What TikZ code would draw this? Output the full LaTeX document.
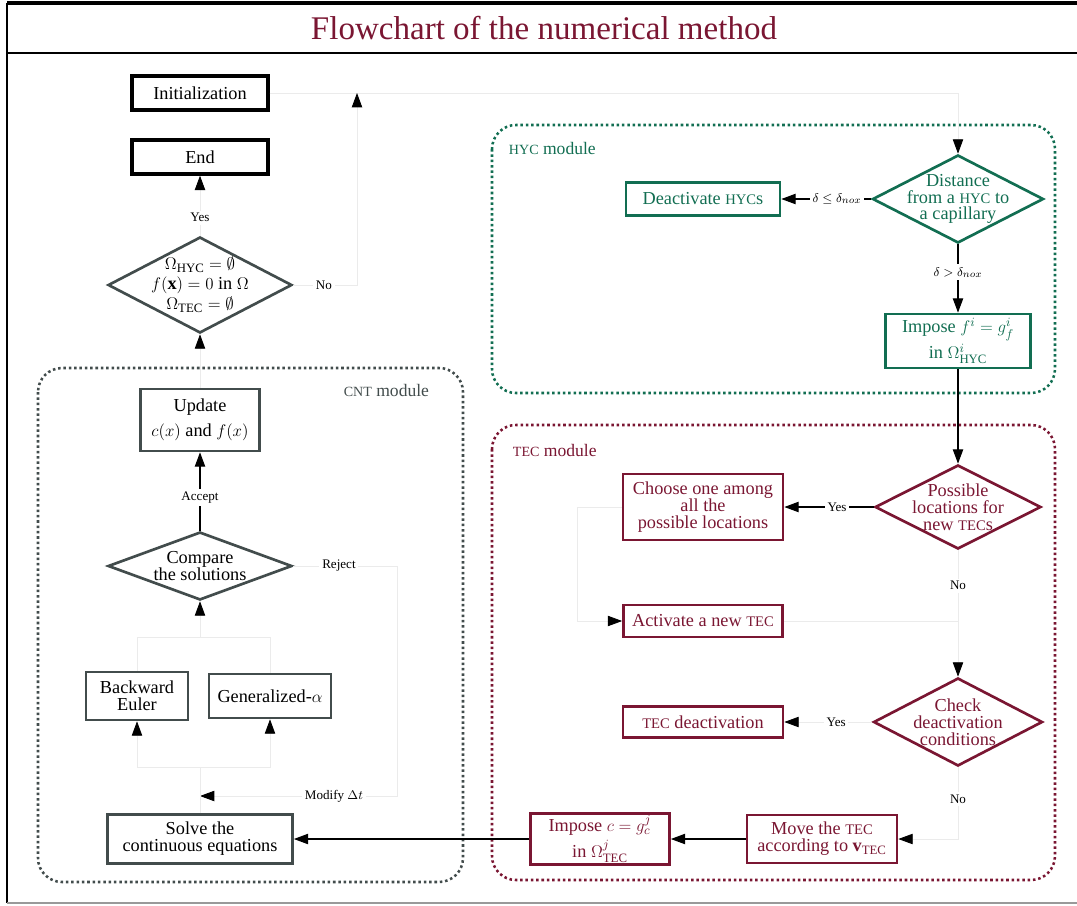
\documentclass[tikz,border=0pt]{standalone}
\usepackage{amsmath}
\usepackage{amssymb}
\usepackage{graphicx}
\usepackage{fontspec}
\setmainfont{Liberation Serif}
\usetikzlibrary{shapes.geometric,arrows.meta,positioning}
\definecolor{cntgray}{RGB}{66,76,76}
\definecolor{hycgreen}{RGB}{18,110,82}
\definecolor{tecred}{RGB}{122,22,50}
\newcommand{\smc}[1]{\scalebox{0.8}{#1}}
\tikzset{
  base/.style={font=\fontsize{13}{12}\selectfont, align=center, inner sep=2pt},
  mathbase/.style={font=\fontsize{13}{18}\selectfont, inner sep=1pt},
  blackbox/.style={base, rectangle, draw=black, line width=2.4pt, minimum width=3.4cm, minimum height=0.85cm},
  cntbox/.style={base, rectangle, draw=cntgray, line width=1.9pt},
  hycbox/.style={base, rectangle, draw=hycgreen, text=hycgreen, line width=1.9pt},
  tecbox/.style={base, rectangle, draw=tecred, text=tecred, line width=1.9pt},
  dia/.style={diamond, line width=1.9pt, inner sep=0pt},
  arr/.style={-{Triangle[length=0.36cm,width=0.26cm]}, line width=0.8pt, draw=black},
  farr/.style={-{Triangle[length=0.36cm,width=0.26cm,color=black]}, line width=0.6pt, draw=black!8},
  fline/.style={line width=0.6pt, draw=black!8},
  lbl/.style={font=\fontsize{9.3}{10}\selectfont, fill=white, inner sep=2pt},
  module/.style={rounded corners=0.6cm, dotted, line width=1.8pt},
  modlbl/.style={font=\fontsize{12.5}{13}\selectfont}
}
\begin{document}
\begin{tikzpicture}
\useasboundingbox (0,0) rectangle (26.925,-22.625);
% frame and title
\draw[line width=2.2pt] (0.175,-0.075) -- (27.5,-0.075);
\draw[line width=1.2pt] (0.175,-0.075) -- (0.175,-22.575);
\draw[line width=1.6pt] (0.175,-1.325) -- (27.5,-1.325);
\draw[line width=0.8pt, black!40] (0.175,-22.575) -- (27.5,-22.575);
\node[font=\fontsize{23.5}{28}\selectfont, text=tecred] (title) at (13.6,-0.7) {Flowchart of the numerical method};

% modules
\draw[module, draw=cntgray] (0.95,-9.2) rectangle (11.575,-22.05);
\node[modlbl, text=cntgray, anchor=east] (cntlbl) at (10.85,-9.75) {\smc{CNT} module};
\draw[module, draw=hycgreen] (12.3,-3.125) rectangle (26.375,-9.825);
\node[modlbl, text=hycgreen, anchor=west] (hyclbl) at (12.6,-3.7) {\smc{HYC} module};
\draw[module, draw=tecred] (12.3,-10.625) rectangle (26.375,-22.0);
\node[modlbl, text=tecred, anchor=west] (teclbl) at (12.7,-11.25) {\smc{TEC} module};

% main loop
\node[blackbox] (init) at (5,-2.325) {Initialization};
\node[blackbox] (endn) at (5,-3.925) {End};
\node[dia, draw=cntgray, minimum width=4.6cm, minimum height=2.4cm,
  label={[base, font=\fontsize{13}{14.2}\selectfont]center:{$\Omega_{\text{HYC}}=\emptyset$\\$f(\mathbf{x})=0$ in $\Omega$\\$\Omega_{\text{TEC}}=\emptyset$}}] (stop) at (5,-7.125) {};

% CNT module
\node[cntbox, minimum width=2.975cm, minimum height=1.55cm, mathbase] (upd) at (5,-10.5) {Update\\$c(x)$ and $f(x)$};
\node[dia, draw=cntgray, minimum width=4.6cm, minimum height=1.7cm,
  label={[base]center:{Compare\\the solutions}}] (cmp) at (5,-14.15) {};
\node[cntbox, minimum width=2.55cm, minimum height=1.2cm] (be) at (3.425,-17.4) {Backward\\Euler};
\node[cntbox, minimum width=3.05cm, minimum height=1.1cm] (ga) at (6.75,-17.4) {Generalized-$\alpha$};
\node[cntbox, minimum width=4.625cm, minimum height=1.225cm] (solve) at (5,-20.975) {Solve the\\continuous equations};
\coordinate (merge) at (5,-15.925);
\coordinate (split) at (5,-19.175);
\coordinate (modt) at (5,-19.9);
\coordinate (rej) at (9.925,-14.15);
\coordinate (back) at (8.925,-2.325);

% HYC module
\node[dia, draw=hycgreen, minimum width=4.275cm, minimum height=2.2cm,
  label={[base, text=hycgreen]center:{Distance\\from a \smc{HYC} to\\a capillary}}] (dist) at (23.95,-4.975) {};
\node[hycbox, minimum width=3.85cm, minimum height=0.825cm] (deact) at (17.575,-4.975) {Deactivate \smc{HYC}s};
\node[hycbox, minimum width=3.625cm, minimum height=1.35cm, mathbase] (impf) at (23.95,-8.525) {Impose $f^i=g^i_f$\\in $\Omega^i_{\text{HYC}}$};

% TEC module
\node[dia, draw=tecred, minimum width=4.15cm, minimum height=2.1cm,
  label={[base, text=tecred]center:{Possible\\locations for\\new \smc{TEC}s}}] (poss) at (23.95,-12.675) {};
\node[tecbox, minimum width=4cm, minimum height=1.65cm] (choose) at (17.575,-12.675) {Choose one among\\all the\\possible locations};
\node[tecbox, minimum width=3.975cm, minimum height=0.8cm] (act) at (17.575,-15.525) {Activate a new \smc{TEC}};
\node[dia, draw=tecred, minimum width=4.225cm, minimum height=2.2cm,
  label={[base, text=tecred]center:{Check\\deactivation\\conditions}}] (check) at (23.95,-18.05) {};
\node[tecbox, minimum width=4cm, minimum height=0.775cm] (tdeact) at (17.575,-18.05) {\smc{TEC} deactivation};
\node[tecbox, minimum width=3.75cm, minimum height=1.2cm] (move) at (20.55,-20.975) {Move the \smc{TEC}\\according to $\mathbf{v}_{\text{TEC}}$};
\node[tecbox, minimum width=3.475cm, minimum height=1.225cm, mathbase] (impc) at (15,-20.975) {Impose $c=g^j_c$\\in $\Omega^j_{\text{TEC}}$};
\coordinate (chbend) at (14.425,-12.675);

% connectors
\draw[farr] (init.east) -| (dist.north);
\draw[farr] (stop.north) -- node[lbl, pos=0.3]{Yes} (endn.south);
\draw[farr] (stop.east) -| node[lbl, pos=0.24]{No} (back);
\draw[farr] (upd.north) -- (stop.south);
\draw[arr] (cmp.north) -- node[lbl, pos=0.42]{Accept} (upd.south);
\draw[farr] (cmp.east) -- node[lbl, pos=0.44]{Reject} (rej) |- node[lbl, pos=0.66]{Modify $\Delta t$} (modt);
\draw[fline] (solve.north) -- (split);
\draw[farr] (split) -| (be.south);
\draw[farr] (split) -| (ga.south);
\draw[fline] (be.north) |- (merge);
\draw[fline] (ga.north) |- (merge);
\draw[farr] (merge) -- (cmp.south);

\draw[arr] (dist.west) -- node[lbl, pos=0.38]{$\delta\le\delta_{nox}$} (deact.east);
\draw[arr] (dist.south) -- node[lbl, pos=0.41]{$\delta>\delta_{nox}$} (impf.north);
\draw[arr] (impf.south) -- (poss.north);

\draw[arr] (poss.west) -- node[lbl, pos=0.41]{Yes} (choose.east);
\draw[farr] (poss.south) -- node[lbl, pos=0.28]{No} (check.north);
\draw[farr] (choose.west) -- (chbend) |- (act.west);
\draw[fline] (act.east) -- (act.east -| poss.south);
\draw[farr] (check.west) -- node[lbl, pos=0.41]{Yes} (tdeact.east);
\draw[farr] (check.south) |- node[lbl, pos=0.22]{No} (move.east);
\draw[arr] (move.west) -- (impc.east);
\draw[arr] (impc.west) -- (solve.east);
\end{tikzpicture}
\end{document}
